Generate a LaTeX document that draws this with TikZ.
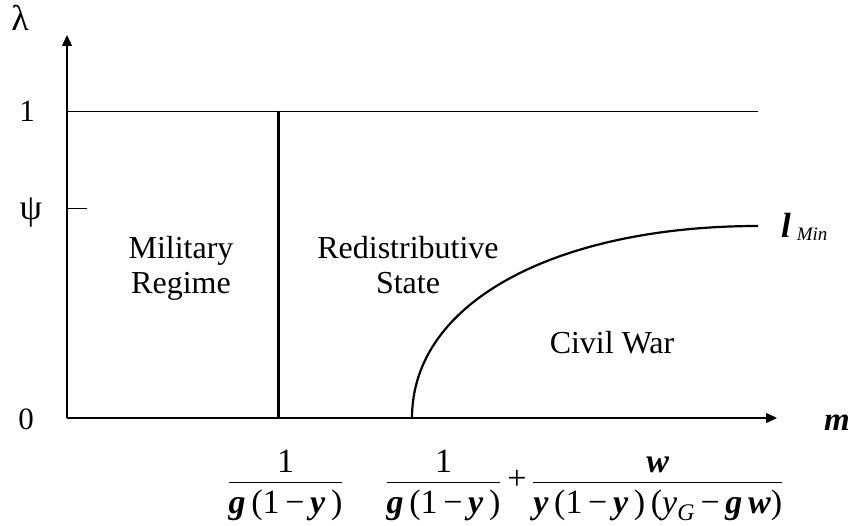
\documentclass[tikz,border=0pt]{standalone}
\usepackage{amsmath}
\usepackage{fontspec}
\setmainfont{Liberation Serif}
\usetikzlibrary{arrows.meta, positioning}
\newcommand{\bfit}[1]{\textbf{\textit{#1}}}
\newcommand{\dstrut}{\rule{0pt}{27pt}}

\begin{document}
\begin{tikzpicture}[x=1pt, y=-1pt, every node/.style={inner sep=0pt, font=\fontsize{31}{35}\selectfont},
    axis/.style={line width=1.5pt, -{Triangle[length=11pt, width=10pt]}},
    region/.style={align=center, font=\fontsize{32}{35}\selectfont},
    frac/.style={anchor=base, font=\fontsize{34}{38}\selectfont}]
  \useasboundingbox (0,0) rectangle (850,526);
  \coordinate (O) at (67,418);
  \coordinate (ytop) at (67,35);
  \coordinate (xend) at (777,418);
  \coordinate (onel) at (67,111);
  \coordinate (oner) at (758,111);
  \coordinate (psil) at (67,209);
  \coordinate (psir) at (87,209);
  \coordinate (miltop) at (278,111);
  \coordinate (milbot) at (278,418);
  \coordinate (cwstart) at (412,418);
  \coordinate (cwend) at (758,226);
  \draw[axis] (O) -- (ytop);
  \draw[axis] (O) -- (xend);
  \draw[line width=0.8pt] (onel) -- (oner);
  \draw[line width=1pt] (psil) -- (psir);
  \draw[line width=3pt] (miltop) -- (milbot);
  \draw[line width=2.2pt] (cwstart) .. controls (412,300) and (560,226) .. (cwend);
  \node[font=\fontsize{36}{40}\selectfont] (lambda) at (20,18) {λ};
  \node (tone) at (27,111) {1};
  \node[font=\fontsize{36}{40}\selectfont] (tpsi) at (31,213) {ψ};
  \node (tzero) at (26,419) {0};
  \node[anchor=base west, font=\fontsize{33}{36}\selectfont] (mlab) at (824,430) {\bfit{m}};
  \node[anchor=base west] (lmin) at (781,238) {\fontsize{35}{38}\selectfont\bfit{l}\,\raisebox{-3pt}{\fontsize{19}{20}\selectfont\textit{Min}}};
  \node[region] (military) at (181,268) {Military\\Regime};
  \node[region] (redist) at (408,265) {Redistributive\\State};
  \node[region] (civil) at (612,343) {Civil War};
  \node[frac] (fmil) at (285.5,489) {$\dfrac{\text{1}}{\text{\dstrut\bfit{g}\,(1\,−\,\bfit{y}\,)}}$};
  \node[frac] (fcivil) at (584.5,489) {$\dfrac{\text{1}}{\text{\dstrut\bfit{g}\,(1\,−\,\bfit{y}\,)}}\text{\,+\,}\dfrac{\text{\bfit{w}}}{\text{\dstrut\bfit{y}\,(1\,−\,\bfit{y}\,)\,(\textit{y}\textsubscript{\textit{G}}\,−\,\bfit{g}\,\bfit{w})}}$};
\end{tikzpicture}
\end{document}
